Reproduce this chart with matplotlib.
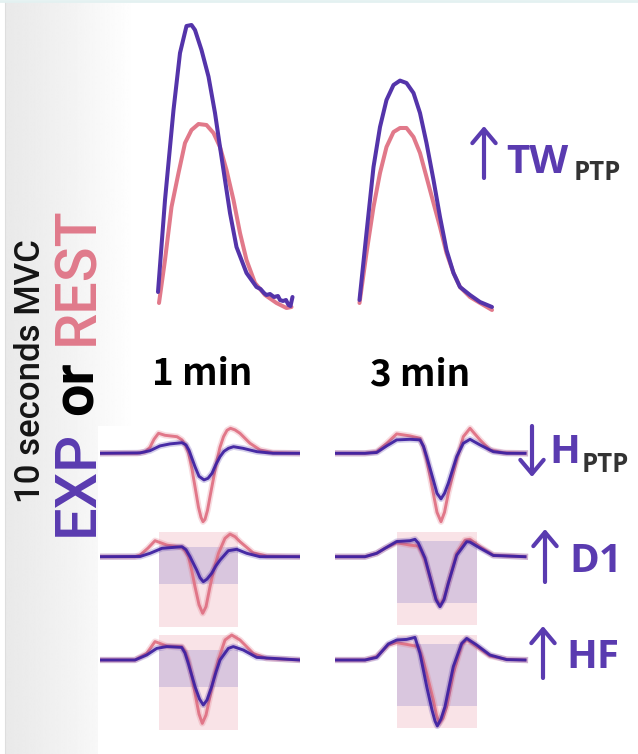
import numpy as np
import matplotlib
matplotlib.use("Agg")
import matplotlib.pyplot as plt
from matplotlib.patches import Rectangle

W, H = 638, 754

# ---------------- data ----------------
# Twitch torque (N·m) vs time (ms) after a 10 s MVC
tw_1min_exp_t = [0, 14, 31, 44, 57, 67, 74, 87, 101, 114, 124, 134, 144, 157, 177, 197, 205, 212, 217, 224, 232, 240, 244, 250, 256, 261, 265, 269]
tw_1min_exp_nm = [0.4, 5.0, 9.5, 12.35, 13.7, 13.75, 13.5, 12.5, 11.17, 9.35, 7.65, 6.0, 4.35, 2.65, 1.35, 0.65, 0.55, 0.35, 0.25, 0.3, 0.15, 0.2, 0.0, -0.05, 0.0, -0.25, -0.3, 0.15]
tw_1min_rest_t = [2, 14, 27, 41, 54, 67, 81, 97, 111, 124, 137, 151, 164, 177, 194, 214, 237, 257, 267]
tw_1min_rest_nm = [-0.15, 2.0, 4.65, 6.35, 7.85, 8.5, 8.8, 8.75, 8.35, 7.65, 6.5, 5.0, 3.35, 2.0, 0.85, 0.25, -0.15, -0.4, -0.35]
tw_3min_exp_t = [3, 17, 31, 44, 57, 71, 84, 97, 111, 124, 137, 151, 164, 177, 191, 204, 224, 244, 268]
tw_3min_exp_nm = [0.0, 3.35, 6.65, 8.65, 10.0, 10.75, 10.97, 10.85, 10.35, 9.35, 7.85, 6.0, 4.15, 2.5, 1.35, 0.65, 0.25, -0.1, -0.35]
tw_3min_rest_t = [3, 17, 31, 44, 57, 71, 84, 97, 111, 124, 137, 151, 164, 177, 191, 204, 224, 244, 268]
tw_3min_rest_nm = [-0.15, 2.35, 4.65, 6.35, 7.65, 8.4, 8.6, 8.6, 8.15, 7.35, 6.15, 4.85, 3.65, 2.35, 1.35, 0.65, 0.15, -0.15, -0.5]

# M-wave / H-reflex traces (mV) vs time (ms)
hptp_1min_rest_t = [0, 3.7, 4.5, 5.0, 5.4, 5.85, 6.5, 7.7, 8.2, 8.55, 8.85, 9.2, 9.5, 9.85, 10.1, 10.3, 10.5, 10.75, 11.0, 11.35, 11.7, 12.0, 12.35, 12.7, 13.05, 13.5, 14.0, 15.0, 16.0, 17.3, 20]
hptp_1min_rest_mv = [0, 0, 0.07, 0.3, 0.7, 1.0, 0.9, 0.83, 0.67, 0.4, 0.02, -0.8, -1.67, -2.7, -3.2, -3.42, -3.3, -2.85, -2.17, -1.25, -0.33, 0.3, 0.83, 1.15, 1.25, 1.17, 1.0, 0.5, 0.17, 0.03, 0]
hptp_1min_exp_t = [0, 4.0, 5.0, 6.0, 7.0, 8.2, 8.6, 8.9, 9.5, 9.9, 10.4, 10.8, 11.2, 11.6, 12.0, 12.4, 12.85, 13.35, 14.3, 15.7, 17.3, 20]
hptp_1min_exp_mv = [0, 0.02, 0.13, 0.37, 0.47, 0.53, 0.42, 0.15, -0.67, -1.15, -1.33, -1.25, -1.0, -0.55, -0.17, 0.1, 0.25, 0.33, 0.25, 0.08, 0, 0]
d1_1min_rest_t = [0, 3.5, 4.0, 4.8, 5.5, 6.7, 8.2, 8.5, 8.85, 9.2, 9.5, 9.9, 10.27, 10.6, 11.0, 11.4, 11.85, 12.5, 13.0, 13.5, 14.0, 15.3, 16.7, 20]
d1_1min_rest_mv = [0, 0, 0.08, 0.43, 0.8, 0.58, 0.47, 0.3, 0, -0.75, -1.5, -2.4, -2.83, -2.5, -1.5, -0.6, 0.17, 0.92, 1.13, 1.0, 0.75, 0.2, 0.03, 0]
d1_1min_exp_t = [0, 4.0, 5.0, 6.2, 8.2, 8.6, 9.0, 9.67, 10.0, 10.33, 10.7, 11.17, 11.6, 12.0, 12.83, 13.67, 14.67, 16.0, 20]
d1_1min_exp_mv = [0, 0.01, 0.17, 0.42, 0.5, 0.35, 0, -0.67, -1.05, -1.25, -1.12, -0.83, -0.45, -0.17, 0.3, 0.37, 0.17, 0, 0]
hf_1min_rest_t = [0, 3.5, 4.67, 5.5, 6.67, 8.17, 8.5, 8.83, 9.2, 9.5, 9.9, 10.23, 10.6, 11.0, 11.4, 11.83, 12.5, 13.17, 14.0, 15.33, 16.67, 20]
hf_1min_rest_mv = [0, 0, 0.33, 0.92, 0.7, 0.67, 0.45, 0, -0.85, -1.67, -2.7, -3.17, -2.75, -1.83, -0.85, 0, 1.0, 1.25, 1.0, 0.33, 0.08, 0]
hf_1min_exp_t = [0, 3.5, 4.67, 5.67, 6.67, 8.17, 8.5, 8.83, 9.5, 9.95, 10.33, 10.7, 11.17, 11.6, 12.0, 12.83, 13.33, 14.33, 15.67, 20]
hf_1min_exp_mv = [0, 0, 0.25, 0.58, 0.67, 0.63, 0.35, -0.17, -1.33, -1.95, -2.25, -2.0, -1.33, -0.6, 0, 0.58, 0.67, 0.5, 0.13, 0]

hptp_3min_rest_t = [0, 3.0, 4.17, 5.17, 6.17, 7.5, 8.5, 8.85, 9.17, 9.5, 9.83, 10.2, 10.6, 10.95, 11.33, 11.75, 12.17, 12.83, 13.5, 14.5, 15.5, 16.83, 19]
hptp_3min_rest_mv = [0, 0, 0.08, 0.5, 0.97, 0.87, 0.75, 0.3, -0.33, -1.15, -2.0, -2.95, -3.42, -2.95, -2.0, -1.15, -0.33, 0.83, 1.25, 0.67, 0.17, 0.03, 0]
hptp_3min_exp_t = [0, 3.0, 4.17, 5.17, 6.17, 7.5, 8.5, 8.85, 9.17, 9.83, 10.2, 10.6, 10.95, 11.33, 12.17, 12.83, 13.5, 14.5, 15.83, 17.17, 19]
hptp_3min_exp_mv = [0, 0, 0.04, 0.37, 0.67, 0.7, 0.67, 0.35, -0.17, -1.33, -2.0, -2.28, -2.0, -1.5, -0.17, 0.5, 0.7, 0.42, 0.08, 0, 0]
d1_3min_rest_t = [0, 3.0, 4.17, 5.0, 6.17, 7.5, 8.33, 8.65, 9.0, 9.67, 10.1, 10.5, 10.9, 11.33, 12.17, 13.0, 13.5, 14.5, 15.83, 19]
d1_3min_rest_mv = [0, 0, 0.17, 0.42, 0.7, 0.58, 0.53, 0.25, -0.17, -1.33, -2.1, -2.42, -2.1, -1.33, 0.17, 0.83, 0.87, 0.5, 0.08, 0]
d1_3min_exp_t = [0, 3.0, 4.17, 5.0, 6.17, 7.5, 8.0, 8.33, 9.0, 9.67, 10.1, 10.5, 10.9, 11.33, 12.17, 13.17, 13.5, 14.5, 15.83, 19]
d1_3min_exp_mv = [0, 0, 0.17, 0.42, 0.76, 0.8, 0.87, 0.68, -0.07, -1.33, -2.15, -2.5, -2.15, -1.33, 0.08, 0.75, 0.73, 0.43, 0.06, 0]
hf_3min_rest_t = [0, 3.0, 4.17, 5.33, 6.17, 7.5, 8.33, 8.75, 9.17, 9.83, 10.15, 10.43, 10.8, 11.17, 11.83, 12.67, 13.17, 14.17, 15.5, 17.17, 19]
hf_3min_rest_mv = [0, 0, 0.17, 0.75, 0.87, 0.75, 0.67, 0.1, -0.67, -2.0, -2.75, -3.17, -2.9, -2.33, -0.67, 0.75, 1.03, 0.67, 0.2, 0.03, 0]
hf_3min_exp_t = [0, 3.0, 4.17, 5.33, 6.17, 7.17, 8.0, 8.5, 9.17, 9.7, 10.0, 10.23, 10.6, 11.0, 11.83, 12.67, 13.17, 14.17, 15.5, 17.17, 19]
hf_3min_exp_mv = [0, 0, 0.13, 0.8, 1.0, 1.03, 1.13, 0.33, -1.33, -2.5, -3.05, -3.3, -2.95, -2.33, -0.33, 0.83, 1.08, 0.75, 0.25, 0.02, 0]

# analysis windows (ms) and peak-to-peak ranges (mV) [min, max]
window_1min = [5.9, 13.83]
window_3min = [6.23, 14.17]
d1_1min_rest_range = [-3.5, 1.25]
d1_1min_exp_range = [-1.37, 0.5]
hf_1min_rest_range = [-3.5, 1.25]
hf_1min_exp_range = [-1.37, 0.5]
d1_3min_rest_range = [-3.42, 1.25]
d1_3min_exp_range = [-2.3, 0.8]
hf_3min_rest_range = [-3.42, 1.25]
hf_3min_exp_range = [-2.28, 0.8]

time_labels = ["1 min", "3 min"]
row_labels = [("\u2193", "H", "PTP"), ("\u2191", "D1", ""), ("\u2191", "HF", "")]

# ---------------- style ----------------
PURPLE = "#5434aa"
PURPLE_D = "#3f22a2"
PINK = "#e07284"
TXT_PURPLE = "#5a3bb0"
REST_PINK = "#e07a8b"
RECT_PINK = "#f9e3e7"
RECT_PURPLE = "#d9c6de"
LBL_FONT = ["Open Sans", "DejaVu Sans"]

fig = plt.figure(figsize=(W / 100, H / 100), dpi=100)
fig.patch.set_facecolor("white")


def px_axes(x0, y0, x1, y1, z=1):
    ax = fig.add_axes([x0 / W, 1 - y1 / H, (x1 - x0) / W, (y1 - y0) / H], zorder=z)
    ax.set_facecolor("none")
    ax.axis("off")
    return ax


# background
bg = px_axes(0, 0, W, H, z=0)
s = np.linspace(0, 1, 300)
grad = 0.915 + 0.085 * s ** 1.2
bg.imshow(np.tile(grad, (2, 1)), cmap="gray", vmin=0, vmax=1, aspect="auto",
          extent=(5, 135, H, 2), interpolation="bilinear")
bg.plot([5, 5], [2, H], color="#dedede", lw=0.8)
bg.plot([0, W], [1, 1], color="#e3f1f1", lw=2)
bg.add_patch(Rectangle((98, 426), 210, H - 426, facecolor="white", edgecolor="none"))
bg.set_xlim(0, W)
bg.set_ylim(H, 0)

# top twitch panels
for (x0, x1), (et, ev), (rt, rv) in [
    ((150, 300), (tw_1min_exp_t, tw_1min_exp_nm), (tw_1min_rest_t, tw_1min_rest_nm)),
    ((350, 500), (tw_3min_exp_t, tw_3min_exp_nm), (tw_3min_rest_t, tw_3min_rest_nm)),
]:
    ax = px_axes(x0, 15, x1, 320)
    ax.plot(rt, rv, color=PINK, lw=2.9, alpha=0.95, solid_capstyle="round", solid_joinstyle="round")
    ax.plot(et, ev, color=PURPLE, lw=2.9, solid_capstyle="round", solid_joinstyle="round")
    ax.set_xlim(-16, 284)
    ax.set_ylim(-1.0, 14.25)

# bottom evoked-potential panels
rows = [
    (453.3, (hptp_1min_rest_t, hptp_1min_rest_mv, hptp_1min_exp_t, hptp_1min_exp_mv, None, None),
            (hptp_3min_rest_t, hptp_3min_rest_mv, hptp_3min_exp_t, hptp_3min_exp_mv, None, None)),
    (556.7, (d1_1min_rest_t, d1_1min_rest_mv, d1_1min_exp_t, d1_1min_exp_mv, d1_1min_rest_range, d1_1min_exp_range),
            (d1_3min_rest_t, d1_3min_rest_mv, d1_3min_exp_t, d1_3min_exp_mv, d1_3min_rest_range, d1_3min_exp_range)),
    (660.0, (hf_1min_rest_t, hf_1min_rest_mv, hf_1min_exp_t, hf_1min_exp_mv, hf_1min_rest_range, hf_1min_exp_range),
            (hf_3min_rest_t, hf_3min_rest_mv, hf_3min_exp_t, hf_3min_exp_mv, hf_3min_rest_range, hf_3min_exp_range)),
]
for base, left, right in rows:
    for (x0, x1), win, (rt, rv, et, ev, rr, er) in [((100, 300), window_1min, left),
                                                    ((335, 535), window_3min, right)]:
        ax = px_axes(x0, base - 35, x1, base + 75)
        if rr is not None:
            ax.add_patch(Rectangle((win[0], rr[0]), win[1] - win[0], rr[1] - rr[0],
                                   facecolor=RECT_PINK, edgecolor="none"))
            ax.add_patch(Rectangle((win[0], er[0]), win[1] - win[0], er[1] - er[0],
                                   facecolor=RECT_PURPLE, edgecolor="none"))
        ax.plot(rt, rv, color=PINK, lw=4.5, alpha=0.25, solid_joinstyle="round")
        ax.plot(rt, rv, color=PINK, lw=2.1, alpha=0.95, solid_joinstyle="round")
        ax.plot(et, ev, color=PURPLE_D, lw=4.5, alpha=0.22, solid_joinstyle="round")
        ax.plot(et, ev, color=PURPLE_D, lw=2.1, alpha=0.95, solid_joinstyle="round")
        ax.set_xlim(0, 20)
        ax.set_ylim(-3.75, 1.75)

# text overlay
tx = px_axes(0, 0, W, H, z=10)
tx.set_xlim(0, W)
tx.set_ylim(H, 0)

tx.text(40, 371.5, "10 seconds MVC", rotation=90, rotation_mode="anchor", ha="center",
        va="baseline", fontsize=25, family="Roboto", fontweight="medium", color="#151515")
tx.text(93, 483, "EXP", rotation=90, rotation_mode="anchor", ha="center", va="baseline",
        fontsize=41.5, family="Roboto", fontweight="medium", color=TXT_PURPLE)
tx.text(93, 388, "or", rotation=90, rotation_mode="anchor", ha="center", va="baseline",
        fontsize=41.5, family="Roboto", fontweight="bold", color="black")
tx.text(93, 275.5, "REST", rotation=90, rotation_mode="anchor", ha="center", va="baseline",
        fontsize=41.5, family="Roboto", fontweight="medium", color=REST_PINK)

for lbl, xc in zip(time_labels, [202.5, 420]):
    tx.text(xc, 385, lbl, ha="center", va="baseline", fontsize=26.5,
            family=["Noto Sans CJK SC", "DejaVu Sans"], fontweight="bold", color="black")


def arrow(x, y_from, y_to):
    tx.annotate("", xy=(x, y_to), xytext=(x, y_from),
                arrowprops=dict(arrowstyle="->,head_length=0.5,head_width=0.42",
                                mutation_scale=20, lw=3.0, color=TXT_PURPLE,
                                shrinkA=0, shrinkB=0, capstyle="round", joinstyle="round"))


# TW_PTP
arrow(484, 178, 126)
tx.text(506, 173, "TW", ha="left", va="baseline", fontsize=29, family=LBL_FONT,
        fontweight="bold", color=TXT_PURPLE)
tx.text(574, 180, "PTP", ha="left", va="baseline", fontsize=18.5, family=LBL_FONT,
        fontweight="bold", color="#333333")

# row labels
arrow(532, 426, 477)
tx.text(549, 463, row_labels[0][1], ha="left", va="baseline", fontsize=29, family=LBL_FONT,
        fontweight="bold", color=TXT_PURPLE)
tx.text(582, 472, row_labels[0][2], ha="left", va="baseline", fontsize=18.5, family=LBL_FONT,
        fontweight="bold", color="#333333")
arrow(545, 582, 529)
tx.text(569, 572, row_labels[1][1], ha="left", va="baseline", fontsize=29, family=LBL_FONT,
        fontweight="bold", color=TXT_PURPLE)
arrow(543, 678, 626)
tx.text(566, 668, row_labels[2][1], ha="left", va="baseline", fontsize=29, family=LBL_FONT,
        fontweight="bold", color=TXT_PURPLE)

fig.savefig("out.png", dpi=100)
